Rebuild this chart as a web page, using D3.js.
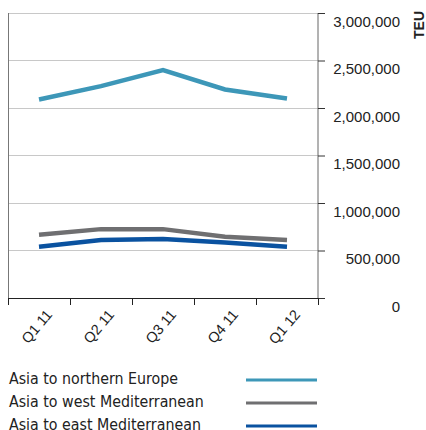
<!DOCTYPE html>
<html><head><meta charset="utf-8">
<script src="https://cdn.jsdelivr.net/npm/d3@7"></script>
<style>body{margin:0;background:#fff}svg{display:block}</style>
</head><body>
<svg id="c" width="426" height="430"></svg>
<script>
const categories = ["Q1 11","Q2 11","Q3 11","Q4 11","Q1 12"];
const northernEurope = [2090000, 2230000, 2400000, 2195000, 2100000];
const westMed = [665000, 725000, 725000, 645000, 610000];
const eastMed = [540000, 610000, 620000, 585000, 540000];
const yTicks = [0, 500000, 1000000, 1500000, 2000000, 2500000, 3000000];
const seriesNames = ["Asia to northern Europe","Asia to west Mediterranean","Asia to east Mediterranean"];
const seriesColors = ["#3d97b8","#6f6f71","#0a52a0"];
const series = [northernEurope, westMed, eastMed];

const svg = d3.select("#c");
const L = 8, R = 318, T = 13, B = 298;
const x = d3.scaleBand().domain(categories).range([L, R]);
const y = d3.scaleLinear().domain([0, 3000000]).range([B, T]);
const tickFont = "'Liberation Sans', Arial, sans-serif";

// gridlines
svg.append("g").selectAll("line").data(yTicks.filter(d=>d>0)).join("line")
  .attr("x1", L).attr("x2", R).attr("y1", d=>y(d)).attr("y2", d=>y(d))
  .attr("stroke", "#c8c8c8").attr("stroke-width", 1).attr("shape-rendering","crispEdges");
// left border
svg.append("line").attr("x1", L).attr("x2", L).attr("y1", T).attr("y2", B)
  .attr("stroke", "#777").attr("shape-rendering","crispEdges");

// right axis
const yAxis = d3.axisRight(y).tickValues(yTicks).tickSize(7).tickFormat(d3.format(","));
const ya = svg.append("g").attr("transform", `translate(${R},0)`).call(yAxis);
ya.attr("font-family", null);
ya.select(".domain").attr("stroke", "#666").attr("d", `M0,${T}V${B}`);
ya.selectAll(".tick line").attr("stroke", "#333");
ya.selectAll(".tick text").attr("x", 82).attr("dy", "0.95em").attr("y", -1)
  .attr("text-anchor", "end").style("font-family", tickFont).attr("font-size", 15).attr("fill", "#222");

// bottom axis
const xa = svg.append("g").attr("transform", `translate(0,${B})`);
xa.append("line").attr("x1", L).attr("x2", R).attr("stroke", "#222").attr("shape-rendering","crispEdges");
const edges = categories.map(c => x(c)).concat([R]);
xa.selectAll("line.tk").data(edges).join("line").attr("class","tk")
  .attr("x1", d=>d).attr("x2", d=>d).attr("y1", 0).attr("y2", 7)
  .attr("stroke", "#222").attr("shape-rendering","crispEdges");
xa.selectAll("text").data(categories).join("text")
  .attr("transform", d => `translate(${x(d)+x.bandwidth()/2+14},${17}) rotate(-50)`)
  .attr("text-anchor", "end").style("font-family", tickFont).attr("font-size", 14.5).attr("fill", "#222")
  .text(d=>d);

// TEU label
svg.append("text").attr("transform", "translate(423.5,25) rotate(-90)")
  .attr("text-anchor", "middle").style("font-family", tickFont).attr("font-weight", "bold")
  .attr("font-size", 14).attr("fill", "#222").text("TEU");

// lines
const line = d3.line().x((d,i)=>x(categories[i]) + x.bandwidth()/2).y(d=>y(d));
svg.append("g").selectAll("path").data(series).join("path")
  .attr("d", d=>line(d)).attr("fill","none")
  .attr("stroke", (d,i)=>seriesColors[i]).attr("stroke-width", 4.5).attr("stroke-linejoin","miter");

// legend
const lg = svg.append("g").selectAll("g").data(seriesNames).join("g")
  .attr("transform", (d,i)=>`translate(0,${379 + i*23})`);
lg.append("text").attr("x", 9).attr("y", 5).style("font-family", "'DejaVu Sans Condensed', 'DejaVu Sans'")
  .attr("font-size", 15.8).attr("fill", "#222").text(d=>d);
lg.append("line").attr("x1", 246).attr("x2", 317).attr("y1", 1).attr("y2", 1)
  .attr("stroke", (d,i)=>seriesColors[i]).attr("stroke-width", 3);
</script>
</body></html>
